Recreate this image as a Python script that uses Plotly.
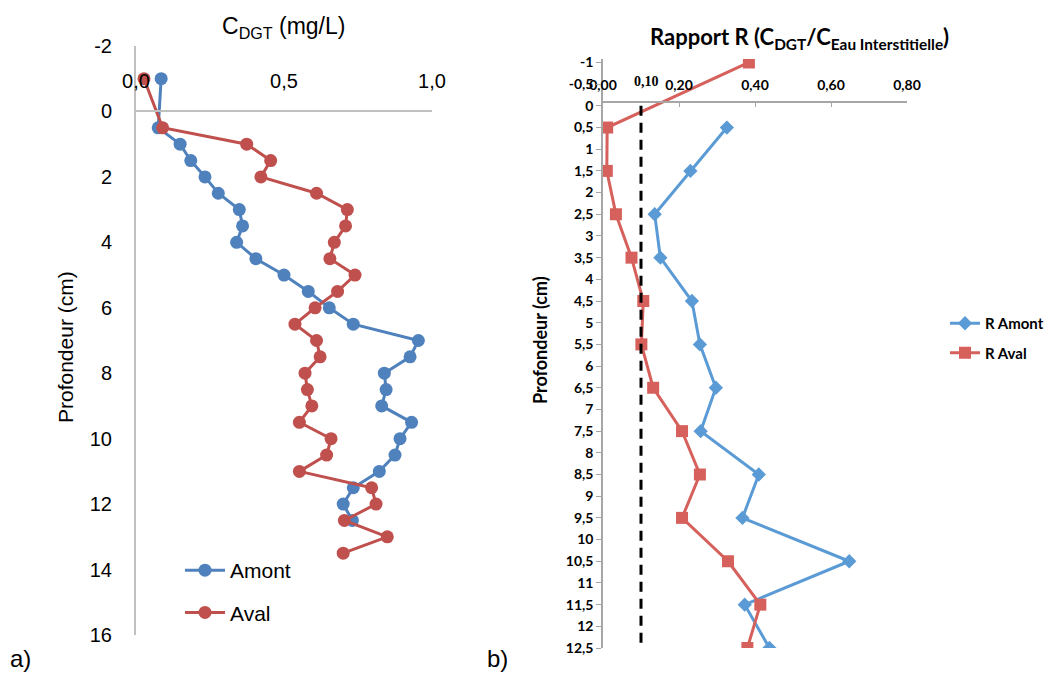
import plotly.graph_objects as go

W, H = 1055, 673

# ---------- Panel a) data ----------
depth_amont = [-1, 0.5, 1, 1.5, 2, 2.5, 3, 3.5, 4, 4.5, 5, 5.5, 6, 6.5, 7, 7.5, 8, 8.5,
               9, 9.5, 10, 10.5, 11, 11.5, 12, 12.5]
cdgt_amont = [0.085, 0.075, 0.149, 0.185, 0.233, 0.278, 0.349, 0.36, 0.34, 0.405, 0.50,
              0.582, 0.653, 0.734, 0.954, 0.926, 0.839, 0.845, 0.83, 0.931, 0.892, 0.875,
              0.822, 0.734, 0.70, 0.731]
depth_aval = [-1, 0.5, 1, 1.5, 2, 2.5, 3, 3.5, 4, 4.5, 5, 5.5, 6, 6.5, 7, 7.5, 8, 8.5,
              9, 9.5, 10, 10.5, 11, 11.5, 12, 12.5, 13, 13.5]
cdgt_aval = [0.027, 0.09, 0.374, 0.455, 0.422, 0.61, 0.714, 0.708, 0.67, 0.655, 0.74,
             0.681, 0.605, 0.537, 0.61, 0.622, 0.571, 0.579, 0.594, 0.552, 0.659, 0.644,
             0.552, 0.796, 0.811, 0.704, 0.849, 0.70]
xa_ticks = [0.0, 0.5, 1.0]
ya_ticks = [-2, 0, 2, 4, 6, 8, 10, 12, 14, 16]

# ---------- Panel b) data ----------
depth_r_amont = [0.5, 1.5, 2.5, 3.5, 4.5, 5.5, 6.5, 7.5, 8.5, 9.5, 10.5, 11.5, 12.5]
r_amont = [0.326, 0.230, 0.136, 0.151, 0.234, 0.255, 0.297, 0.257, 0.41, 0.367, 0.648,
           0.373, 0.438]
depth_r_aval = [-1, 0.5, 1.5, 2.5, 3.5, 4.5, 5.5, 6.5, 7.5, 8.5, 9.5, 10.5, 11.5, 12.5]
r_aval = [0.384, 0.011, 0.010, 0.034, 0.075, 0.106, 0.101, 0.132, 0.208, 0.255, 0.208,
          0.329, 0.414, 0.38]
r_threshold = 0.10
xb_ticks = [0.0, 0.2, 0.4, 0.6, 0.8]
yb_ticks = [-1 + 0.5 * i for i in range(28)]


def fr(v, nd=None):
    s = (f"{v:.{nd}f}" if nd is not None else (f"{v:g}"))
    return s.replace(".", ",")


def px_x(p):
    return p / W


def px_y(p):
    return 1 - p / H


BLUE_A, RED_A = "#4f81bd", "#c0504d"
BLUE_B, RED_B = "#5b9bd5", "#d6605b"
SANS = "Liberation Sans, Arial, sans-serif"
BOLD = "Lato, Open Sans, sans-serif"

fig = go.Figure()

fig.add_trace(go.Scatter(x=cdgt_amont, y=depth_amont, name="Amont", mode="lines+markers",
                         line=dict(color=BLUE_A, width=3), marker=dict(size=13, color=BLUE_A),
                         xaxis="x", yaxis="y", legendgroup="a1"))
fig.add_trace(go.Scatter(x=cdgt_aval, y=depth_aval, name="Aval", mode="lines+markers",
                         line=dict(color=RED_A, width=3), marker=dict(size=13, color=RED_A),
                         xaxis="x", yaxis="y", legendgroup="a2"))

fig.add_trace(go.Scatter(x=r_amont, y=depth_r_amont, name="R Amont", mode="lines+markers",
                         line=dict(color=BLUE_B, width=3),
                         marker=dict(size=11, color=BLUE_B, symbol="diamond"),
                         xaxis="x2", yaxis="y2", legend="legend2", legendgroup="b1"))
fig.add_trace(go.Scatter(x=r_aval, y=depth_r_aval, name="R Aval", mode="lines+markers",
                         line=dict(color=RED_B, width=3),
                         marker=dict(size=12, color=RED_B, symbol="square"),
                         xaxis="x2", yaxis="y2", legend="legend2", legendgroup="b2"))

fig.update_layout(
    width=W, height=H,
    margin=dict(l=0, r=0, t=0, b=0, autoexpand=False),
    paper_bgcolor="white", plot_bgcolor="white",
    font=dict(family=SANS, color="black"),
    xaxis=dict(domain=[px_x(136), px_x(432)], range=[0, 1.0], side="top", anchor="free",
               position=px_y(111), showline=True, linecolor="#c0c0c0", linewidth=2,
               showgrid=False, zeroline=False, ticks="",
               tickvals=xa_ticks, ticktext=[fr(v, 1) for v in xa_ticks],
               tickfont=dict(size=20, family=SANS), ticklabelstandoff=14),
    yaxis=dict(domain=[px_y(635), px_y(46)], range=[16, -2], anchor="x",
               showline=True, linecolor="#c0c0c0", linewidth=2, showgrid=False,
               zeroline=False, ticks="", tickvals=ya_ticks,
               ticktext=[fr(v) for v in ya_ticks],
               tickfont=dict(size=20, family=SANS), ticklabelstandoff=18),
    xaxis2=dict(domain=[px_x(603), px_x(907)], range=[0, 0.8], side="top", anchor="free",
                position=px_y(102), showline=True, linecolor="#a6a6a6", linewidth=1.5,
                showgrid=False, zeroline=False, ticks="inside", ticklen=4,
                tickcolor="#a6a6a6", tickvals=xb_ticks,
                ticktext=[fr(v, 2) for v in xb_ticks],
                tickfont=dict(size=14, family=BOLD, weight="bold"), ticklabelstandoff=6),
    yaxis2=dict(domain=[px_y(648), px_y(59)], range=[12.5, -1.08], anchor="x2",
                showline=True, linecolor="#a6a6a6", linewidth=1.5, showgrid=False,
                zeroline=False, ticks="outside", ticklen=5, tickcolor="#a6a6a6",
                tickvals=yb_ticks, ticktext=[fr(v) for v in yb_ticks],
                tickfont=dict(size=14, family=BOLD, weight="bold")),
    legend=dict(x=px_x(180), y=px_y(550), xanchor="left", yanchor="top",
                font=dict(size=21, family=SANS), bgcolor="rgba(0,0,0,0)",
                tracegroupgap=12, traceorder="grouped", itemwidth=40),
    legend2=dict(x=px_x(945), y=px_y(307), xanchor="left", yanchor="top",
                 font=dict(size=15, family=BOLD, weight="bold"), bgcolor="rgba(0,0,0,0)",
                 tracegroupgap=7, traceorder="grouped"),
    showlegend=True,
)

fig.add_shape(type="line", xref="x2", yref="y2", x0=r_threshold, x1=r_threshold,
              y0=0, y1=12.83, line=dict(color="black", width=3, dash="10px,7px"))

annotations = [
    dict(text="C<sub>DGT</sub> (mg/L)", x=px_x(283), y=px_y(28), font=dict(size=23, family=SANS)),
    dict(text="Profondeur (cm)", x=px_x(66), y=px_y(347), textangle=-90,
         font=dict(size=21, family=SANS)),
    dict(text="<b>Rapport R (C<sub>DGT</sub>/C<sub>Eau Interstitielle</sub>)</b>",
         x=px_x(799), y=px_y(38), font=dict(size=22, family=BOLD)),
    dict(text="<b>Profondeur (cm)</b>", x=px_x(540), y=px_y(340), textangle=-90,
         font=dict(size=18, family=BOLD)),
    dict(text="<b>0,10</b>", x=px_x(646), y=px_y(81),
         font=dict(size=14, family="Liberation Serif, Times New Roman, serif")),
    dict(text="a)", x=px_x(20), y=px_y(658), font=dict(size=24, family=SANS)),
    dict(text="b)", x=px_x(497), y=px_y(658), font=dict(size=24, family=SANS)),
]
for a in annotations:
    a.update(xref="paper", yref="paper", showarrow=False, xanchor="center", yanchor="middle")
    fig.add_annotation(**a)

fig.write_html("out.html", config={"displayModeBar": False},
               post_script="document.body.style.margin='0';document.body.style.padding='0';")
